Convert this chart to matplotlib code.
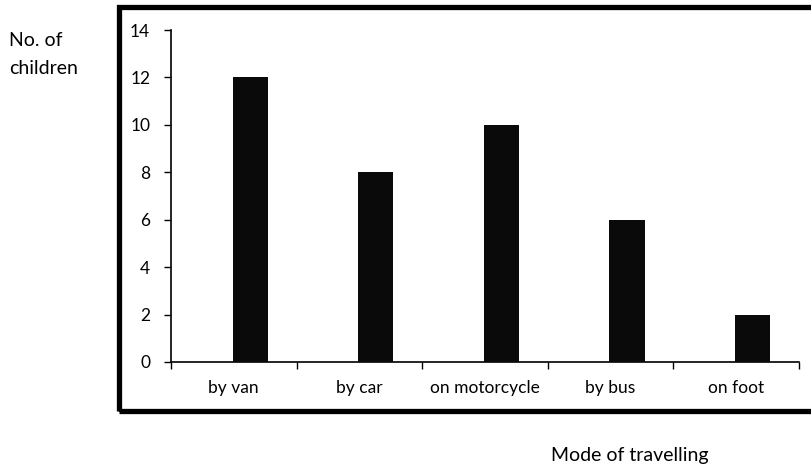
import matplotlib
matplotlib.use("Agg")
import matplotlib.pyplot as plt
from matplotlib.patches import Rectangle
import numpy as np

categories = ["by van", "by car", "on motorcycle", "by bus", "on foot"]
values = [12, 8, 10, 6, 2]
yticks = [0, 2, 4, 6, 8, 10, 12, 14]

plt.rcParams['font.family'] = ['Lato', 'DejaVu Sans']

W, H = 811, 471
fig = plt.figure(figsize=(W/100, H/100), dpi=100)

# outer thick frame (extends past the right edge)
fig.patches.append(Rectangle((118.5/W, (H-410.5)/H), (830-118.5)/W, (410.5-6.5)/H,
                             transform=fig.transFigure, fill=False,
                             edgecolor='black', linewidth=3.8, zorder=0))

ax = fig.add_axes([171/W, (H-362)/H, (799-171)/W, (362-30)/H])
x = np.arange(len(categories))
ax.bar(x + 0.13, values, width=0.28, color='#0a0a0a', zorder=3)
ax.set_xlim(-0.5, len(categories) - 0.5)
ax.set_ylim(0, 14)
ax.set_yticks(yticks)
ax.set_yticklabels([str(v) for v in yticks], fontsize=12.5)
ax.set_xticks(x)
ax.set_xticklabels(categories, fontsize=12.5)
ax.set_xticks(np.arange(-0.5, len(categories)), minor=True)
ax.tick_params(axis='x', which='major', length=0, pad=13)
ax.tick_params(axis='x', which='minor', length=5, width=1, direction='out')
ax.tick_params(axis='y', length=5, width=1, direction='out', pad=10)
for s in ['top', 'right']:
    ax.spines[s].set_visible(False)
for s in ['left', 'bottom']:
    ax.spines[s].set_linewidth(1.2)
    ax.spines[s].set_color('black')

fig.text(9/W, (H-40)/H, "No. of", fontsize=14, va='center', ha='left')
fig.text(9/W, (H-68)/H, "children", fontsize=14, va='center', ha='left')
fig.text(630/W, (H-456)/H, "Mode of travelling", fontsize=14, va='center', ha='center')

fig.savefig("out.png", dpi=100, facecolor='white')
